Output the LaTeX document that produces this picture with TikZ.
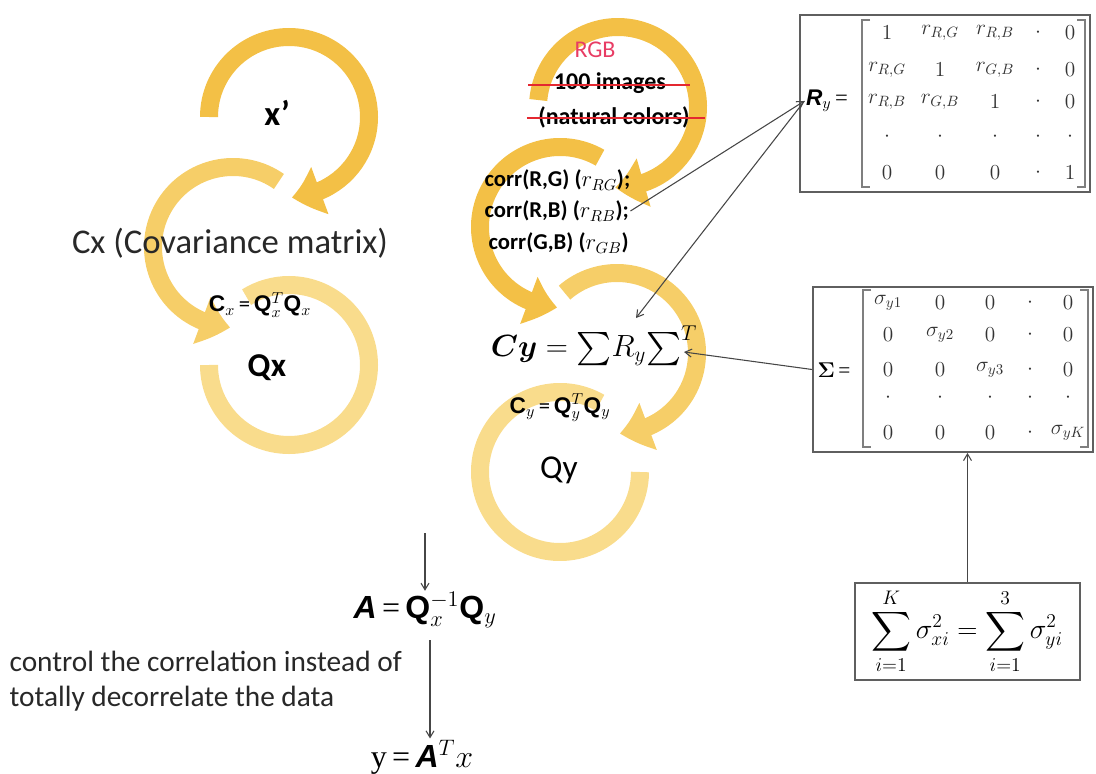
\RequirePackage{fix-cm}
\documentclass[tikz,border=0pt]{standalone}
\usepackage{amsmath,bm}
\usepackage{fontspec}
\setmainfont{Carlito}
\newfontfamily\arialf{Liberation Sans}
\newfontfamily\timesf{Liberation Serif}
\usetikzlibrary{arrows.meta,calc,bending}
\definecolor{goldA}{RGB}{243,192,70}
\definecolor{goldB}{RGB}{246,206,104}
\definecolor{goldC}{RGB}{249,220,140}
\definecolor{strikered}{RGB}{228,40,48}
\definecolor{rgbred}{RGB}{232,60,100}
\definecolor{linegray}{RGB}{70,70,70}
\definecolor{boxgray}{RGB}{95,95,95}
\definecolor{txtgray}{RGB}{40,40,40}
\newcommand{\bsq}[1]{{\arialf\bfseries #1}}
\newcommand{\bsi}[1]{{\arialf\bfseries\itshape #1}}
\begin{document}
\begin{tikzpicture}[x=0.75pt,y=0.75pt,
  band/.style={line width=13.5pt},
  bigtip/.style={-{Triangle[width=36pt,length=22pt,bend]}},
  conn/.style={draw=linegray,line width=0.8pt,-{Straight Barb[length=5pt,width=6pt]}},
  frame/.style={draw=boxgray,line width=1.4pt,inner sep=0pt},
  bracket/.style={draw=boxgray!80,line width=1pt},
  txt/.style={inner sep=1pt,text=black},
  ent/.style={inner sep=0pt,font=\fontsize{16}{19}\selectfont,text=black!80},
  strk/.style={draw=strikered,line width=1.4pt},
]
\useasboundingbox (0,0) rectangle (1096,-774);

% ---- circular arrows ----
\coordinate (cA) at (289,-117);
\coordinate (cB) at (233,-247);
\coordinate (cC) at (289,-365);
\coordinate (cD) at (618,-107);
\coordinate (cE) at (560,-227);
\coordinate (cF) at (617,-353);
\coordinate (cG) at (560,-472);

\draw[band,goldC] ($(cC)+(180:80)$) arc[start angle=180,end angle=482,radius=80];
\draw[band,goldC] ($(cG)+(60:80)$) arc[start angle=60,end angle=360,radius=80];
\draw[band,goldB,bigtip] ($(cB)+(55:80)$) arc[start angle=55,end angle=268,radius=80];
\draw[band,goldB,bigtip] ($(cF)+(131:80)$) arc[start angle=131,end angle=-88,radius=80];
\draw[band,goldA,bigtip] ($(cA)+(180:80)$) arc[start angle=180,end angle=-88,radius=80];
\draw[band,goldA,bigtip] ($(cD)+(175:80)$) arc[start angle=175,end angle=-92,radius=80];
\draw[band,goldA,bigtip] ($(cE)+(60:80)$) arc[start angle=60,end angle=268,radius=80];

% ---- left column texts ----
\node[txt,font=\fontsize{26}{30}\selectfont\bfseries] (xp) at (277,-113) {x’};
\node[txt,font=\fontsize{26}{30}\selectfont,text=txtgray] (cx) at (230,-243) {Cx (Covariance matrix)};
\node[txt,font=\fontsize{17}{20}\selectfont] (cxq) at (260,-305) {\bsq{C}$_{x}$\,=\,\bsq{Q}$_{x}^{T}$\bsq{Q}$_{x}$};
\node[txt,font=\fontsize{25}{30}\selectfont\bfseries] (qx) at (267,-368) {Qx};

% ---- middle column texts ----
\node[txt,font=\fontsize{18}{22}\selectfont,text=rgbred] (rgb) at (595,-50) {RGB};
\node[txt,font=\fontsize{18}{22}\selectfont\bfseries] (img) at (610,-83) {100 images};
\node[txt,font=\fontsize{18}{22}\selectfont\bfseries] (nat) at (614,-117) {(natural colors)};
\draw[strk] ($(img.west)+(-24,-2)$) -- ($(img.east)+(22,-2)$);
\draw[strk] ($(nat.west)+(-10,-1)$) -- ($(nat.east)+(14,-1)$);

\node[txt,anchor=west,font=\fontsize{17}{20}\selectfont\bfseries] (c1) at (483,-180) {corr(R,G) ($r_{RG}$);};
\node[txt,anchor=west,font=\fontsize{17}{20}\selectfont\bfseries] (c2) at (483,-211) {corr(R,B) ($r_{RB}$);};
\node[txt,anchor=west,font=\fontsize{17}{20}\selectfont\bfseries] (c3) at (487,-243) {corr(G,B) ($r_{GB}$)};

\node[txt,font=\fontsize{23}{28}\selectfont] (cy) at (594,-346) {$\bm{Cy} = {\textstyle\sum}R_y{\textstyle\sum}^{T}$};
\node[txt,font=\fontsize{17}{20}\selectfont] (cyq) at (560,-408) {\bsq{C}$_{y}$\,=\,\bsq{Q}$_{y}^{T}$\bsq{Q}$_{y}$};
\node[txt,font=\fontsize{25}{30}\selectfont] (qy) at (559,-470) {Qy};

% ---- bottom left ----
\node[txt,font=\fontsize{24}{28}\selectfont] (aeq) at (425,-610) {\bsi{A}\,{\timesf =}\,\bsq{Q}$_{x}^{-1}$\bsq{Q}$_{y}$};
\node[txt,font=\fontsize{24}{28}\selectfont] (yeq) at (422,-757) {{\timesf y}\,{\timesf =}\,\bsi{A}$^{T}x$};
\node[txt,anchor=west,align=left,text=txtgray,font=\fontsize{22}{26.25}\selectfont] (ctl) at (8,-681) {control the correlation instead of\\totally decorrelate the data};
\coordinate (a0) at (425,-533);
\coordinate (a1) at (430,-640);
\draw[conn] (a0) -- (a0 |- aeq.north);
\draw[conn] (a1) -- (a1 |- yeq.north);

% ---- R_y box ----
\node[frame,minimum width=290*0.75pt,minimum height=177*0.75pt] (rybox) at (945,-103.5) {};
\node[txt,font=\fontsize{17}{20}\selectfont] (Ry) at (827,-101) {\bsi{R}$_{y}$\,{\timesf =}};
\draw[bracket] (870,-20) -- (862,-20) -- (862,-187) -- (870,-187);
\draw[bracket] (1077,-20) -- (1085,-20) -- (1085,-187) -- (1077,-187);
\foreach \px/\py/\t [count=\k] in {
  887/33/{$1$}, 940/33/{$r_{R,G}$}, 995/33/{$r_{R,B}$}, 1038/33/{$\cdot$}, 1070/33/{$0$},
  887/70/{$r_{R,G}$}, 940/70/{$1$}, 995/70/{$r_{G,B}$}, 1038/70/{$\cdot$}, 1070/70/{$0$},
  887/102/{$r_{R,B}$}, 940/102/{$r_{G,B}$}, 995/102/{$1$}, 1038/102/{$\cdot$}, 1070/102/{$0$},
  887/137/{$\cdot$}, 940/137/{$\cdot$}, 995/137/{$\cdot$}, 1038/137/{$\cdot$}, 1070/137/{$\cdot$},
  887/173/{$0$}, 940/173/{$0$}, 995/173/{$0$}, 1038/173/{$\cdot$}, 1070/173/{$1$}}
  \node[ent] (ry\k) at (\px,-\py) {\t};

% ---- Sigma box ----
\node[frame,minimum width=280*0.75pt,minimum height=165*0.75pt] (sgbox) at (953,-369.5) {};
\node[txt,font=\fontsize{16}{19}\selectfont] (Sig) at (834,-370) {$\bm{\Sigma}$\,{\timesf =}};
\draw[bracket] (871,-290) -- (863,-290) -- (863,-447) -- (871,-447);
\draw[bracket] (1080,-290) -- (1088,-290) -- (1088,-447) -- (1080,-447);
\foreach \px/\py/\t [count=\k] in {
  888/303/{$\sigma_{y1}$}, 940/303/{$0$}, 990/303/{$0$}, 1030/303/{$\cdot$}, 1068/303/{$0$},
  888/335/{$0$}, 940/335/{$\sigma_{y2}$}, 990/335/{$0$}, 1030/335/{$\cdot$}, 1068/335/{$0$},
  888/370/{$0$}, 940/370/{$0$}, 990/370/{$\sigma_{y3}$}, 1030/370/{$\cdot$}, 1068/370/{$0$},
  888/398/{$\cdot$}, 940/398/{$\cdot$}, 990/398/{$\cdot$}, 1030/398/{$\cdot$}, 1068/398/{$\cdot$},
  888/433/{$0$}, 940/433/{$0$}, 990/433/{$0$}, 1030/433/{$\cdot$}, 1068/433/{$\sigma_{yK}$}}
  \node[ent] (sg\k) at (\px,-\py) {\t};

% ---- sum box ----
\node[frame,minimum width=225*0.75pt,minimum height=97*0.75pt] (smbox) at (967.5,-631.5) {};
\node[txt,inner sep=0pt,font=\fontsize{21}{24}\selectfont] (sumf) at (967,-631) {$\displaystyle\sum_{i=1}^{K}\sigma_{xi}^{2}=\sum_{i=1}^{3}\sigma_{yi}^{2}$};

% ---- connectors ----
\coordinate (cyin) at (636,-318);
\coordinate (cyT) at (684,-352);
\draw[conn] (c2.east) -- (Ry.west);
\draw[conn] (Ry.west) -- (cyin);
\draw[conn] (sgbox.west) -- (cyT);
\draw[conn] (smbox.north) -- (smbox.north |- sgbox.south);
\end{tikzpicture}
\end{document}
